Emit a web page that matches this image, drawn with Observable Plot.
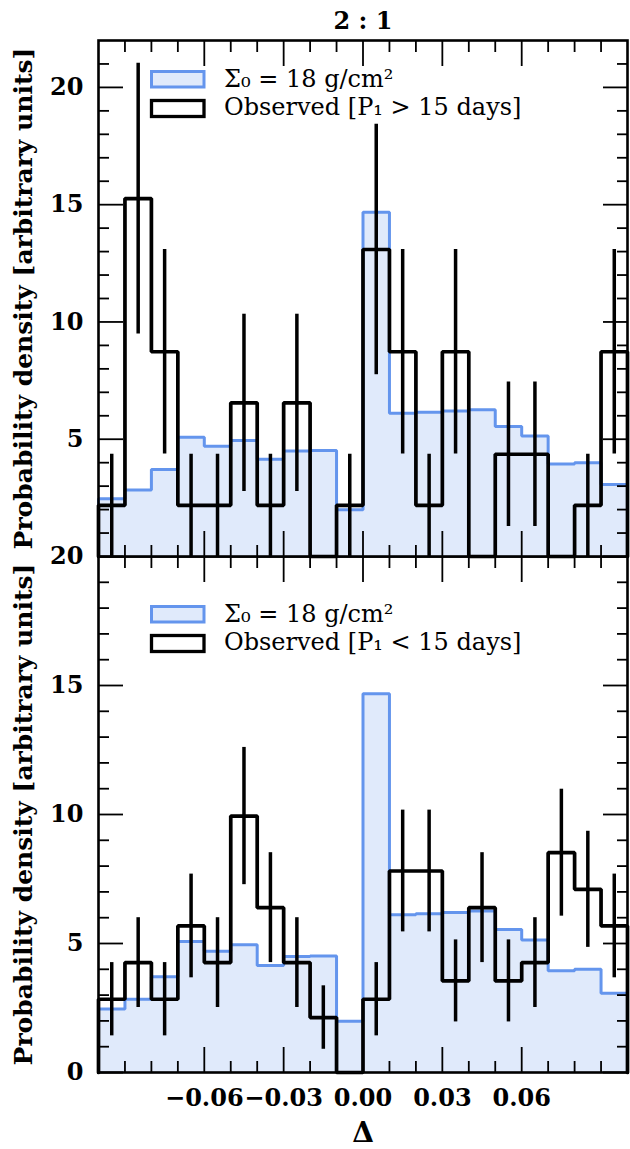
<!DOCTYPE html>
<html><head><meta charset="utf-8">
<script src="https://cdn.jsdelivr.net/npm/d3@7"></script>
<script src="https://cdn.jsdelivr.net/npm/@observablehq/plot@0.6"></script>
<style>
body{margin:0;background:#fff;}
#wrap{position:relative;width:630px;height:1149px;overflow:hidden;font-family:"DejaVu Serif",serif;color:#000;}
#wrap > svg, #wrap > div{position:absolute;left:0;}
</style></head><body><div id="wrap"></div>
<script>
// ---- data ----
const binEdges = [-0.10,-0.09,-0.08,-0.07,-0.06,-0.05,-0.04,-0.03,-0.02,-0.01,0.00,0.01,0.02,0.03,0.04,0.05,0.06,0.07,0.08,0.09,0.10];
const modelDensity = [2.46,2.84,3.71,5.08,4.70,4.95,4.15,4.50,4.52,1.99,14.68,6.11,6.15,6.20,6.26,5.54,5.14,3.94,4.00,3.07];
const obsLong   = [2.18,15.26,8.73,2.18,2.18,6.55,2.18,6.55,0,2.18,13.09,8.73,2.18,8.73,0,4.36,4.36,0,2.18,8.73];
const obsLongLo = [0,9.49,4.37,0,0,2.77,0,2.77,null,0,7.75,4.37,0,4.37,null,1.28,1.28,null,0,4.37];
const obsLongHi = [4.36,21.03,13.09,4.36,4.36,10.33,4.36,10.33,null,4.36,18.43,13.09,4.36,13.09,null,7.44,7.44,null,4.36,13.09];
const obsShort   = [2.84,4.26,2.84,5.68,4.26,9.94,6.39,4.26,2.13,0,2.84,7.81,7.81,3.55,6.39,3.55,4.26,8.52,7.10,5.68];
const obsShortLo = [1.42,2.52,1.42,3.67,2.52,7.28,4.26,2.52,0.90,null,1.42,5.45,5.45,1.96,4.26,1.96,2.52,6.06,4.85,3.67];
const obsShortHi = [4.26,6.00,4.26,7.69,6.00,12.60,8.52,6.00,3.36,null,4.26,10.17,10.17,5.14,8.52,5.14,6.00,10.98,9.35,7.69];
const xTickValues = [-0.06,-0.03,0,0.03,0.06];
const xTickLabels = ["−0.06","−0.03","0.00","0.03","0.06"];
const xMinorTicks = [-0.09,-0.08,-0.07,-0.05,-0.04,-0.02,-0.01,0.01,0.02,0.04,0.05,0.07,0.08,0.09];
const yMajorTicks = [0,5,10,15,20];
const yTopLabels = [5,10,15,20];
const yBottomLabels = [0,5,10,15,20];
const yTopMinor = [1,2,3,4,6,7,8,9,11,12,13,14,16,17,18,19,21];
const yBottomMinor = [1,2,3,4,6,7,8,9,11,12,13,14,16,17,18,19];
const title = "2 : 1";
const yLabel = "Probability density [arbitrary units]";
const xLabel = "Δ";
const legendModel = "Σ₀ = 18 g/cm²";
const legendLong = "Observed [P₁ > 15 days]";
const legendShort = "Observed [P₁ < 15 days]";

// ---- helpers ----
function steps(vals){
  const pts=[{x:binEdges[0],y:0}];
  vals.forEach((v,i)=>{pts.push({x:binEdges[i],y:v},{x:binEdges[i+1],y:v});});
  pts.push({x:binEdges[binEdges.length-1],y:0});
  return pts;
}
function errs(lo,hi){
  return lo.map((l,i)=>({x:(binEdges[i]+binEdges[i+1])/2,lo:l,hi:hi[i]})).filter(d=>d.lo!=null);
}
const FONT = "DejaVu Serif";
const tickOpts = {fill:"none", label:null, strokeWidth:1.8};

function panel({height, marginTop, marginBottom, yDomain, yLabels, yMinor, obs, lo, hi, bottomLabels, extra}){
  const model = steps(modelDensity);
  const o = steps(obs);
  const marks = [
    Plot.areaY(model,{x:"x",y1:0,y2:"y",fill:"#e0eafb"}),
    Plot.line(model,{x:"x",y:"y",stroke:"#6495ed",strokeWidth:3,strokeLinejoin:"miter"}),
    Plot.line(o,{x:"x",y:"y",stroke:"#000",strokeWidth:3.7,strokeLinejoin:"miter"}),
    Plot.ruleX(errs(lo,hi),{x:"x",y1:"lo",y2:"hi",stroke:"#000",strokeWidth:3.5}),
    Plot.frame({stroke:"#000",strokeWidth:2.6}),
    Plot.axisX(xTickValues,{anchor:"bottom",tickSize:-25,...tickOpts}),
    Plot.axisX(xMinorTicks,{anchor:"bottom",tickSize:-11,...tickOpts}),
    Plot.axisX(xTickValues,{anchor:"top",tickSize:-25,...tickOpts}),
    Plot.axisX(xMinorTicks,{anchor:"top",tickSize:-11,...tickOpts}),
    Plot.axisY(yMajorTicks,{anchor:"left",tickSize:-25,...tickOpts}),
    Plot.axisY(yMinor,{anchor:"left",tickSize:-11,...tickOpts}),
    Plot.axisY(yMajorTicks,{anchor:"right",tickSize:-25,...tickOpts}),
    Plot.axisY(yMinor,{anchor:"right",tickSize:-11,...tickOpts}),
    Plot.axisY(yLabels,{anchor:"left",tickSize:0,tickPadding:15,label:null,fontSize:24,fontWeight:"bold",fontFamily:FONT,tickFormat:d=>String(d)}),
    Plot.text([yLabel],{frameAnchor:"left",rotate:-90,dx:-75,text:d=>d,fontSize:25,fontWeight:"bold",fontFamily:FONT,lineAnchor:"middle",textAnchor:"middle"})
  ];
  if (bottomLabels) {
    marks.push(Plot.axisX(xTickValues,{anchor:"bottom",tickSize:0,tickPadding:16,label:null,fontSize:24,fontWeight:"bold",fontFamily:FONT,tickFormat:(d,i)=>xTickLabels[i]}));
    marks.push(Plot.text([xLabel],{frameAnchor:"bottom",dy:61,text:d=>d,fontSize:28,fontWeight:"bold",fontFamily:FONT,lineAnchor:"middle"}));
  }
  if (extra) marks.push(...extra);
  return Plot.plot({
    width:630, height, marginTop, marginBottom, marginLeft:98, marginRight:3,
    x:{domain:[-0.1,0.1],label:null},
    y:{domain:yDomain,label:null},
    style:{fontFamily:FONT,background:"transparent",color:"#000",overflow:"visible"},
    marks
  });
}

const wrap = document.getElementById("wrap");
const top1 = panel({height:560, marginTop:40, marginBottom:4, yDomain:[0,22], yLabels:yTopLabels, yMinor:yTopMinor,
  obs:obsLong, lo:obsLongLo, hi:obsLongHi, bottomLabels:false,
  extra:[Plot.text([title],{frameAnchor:"top",dy:-19,text:d=>d,fontSize:24,fontWeight:"bold",fontFamily:FONT,lineAnchor:"middle"})]});
top1.style.top = "0px";
const bot = panel({height:597, marginTop:4, marginBottom:77, yDomain:[0,20], yLabels:yBottomLabels, yMinor:yBottomMinor,
  obs:obsShort, lo:obsShortLo, hi:obsShortHi, bottomLabels:true});
bot.style.top = "552px";
wrap.appendChild(bot);
wrap.appendChild(top1);

// ---- legends (overlay) ----
const ns="http://www.w3.org/2000/svg";
const ov = document.createElementNS(ns,"svg");
ov.setAttribute("width",630); ov.setAttribute("height",1149);
ov.style.top="0px"; ov.style.pointerEvents="none";
function legend(y0, obsText){
  const esc = s => s.replace(/&/g,"&amp;").replace(/</g,"&lt;").replace(/>/g,"&gt;");
  return `
  <rect x="151.5" y="${y0+1.5}" width="52.5" height="15.5" fill="#e0eafb" stroke="#6495ed" stroke-width="3"/>
  <rect x="151.5" y="${y0+30.5}" width="52.5" height="16" fill="none" stroke="#000" stroke-width="3.3"/>
  <text x="224" y="${y0+17}" font-size="24" font-family="${FONT}">${esc(legendModel)}</text>
  <text x="224" y="${y0+45}" font-size="24" font-family="${FONT}">${esc(obsText)}</text>`;
}
ov.innerHTML = legend(70, legendLong) + legend(605, legendShort);
wrap.appendChild(ov);
</script></body></html>
